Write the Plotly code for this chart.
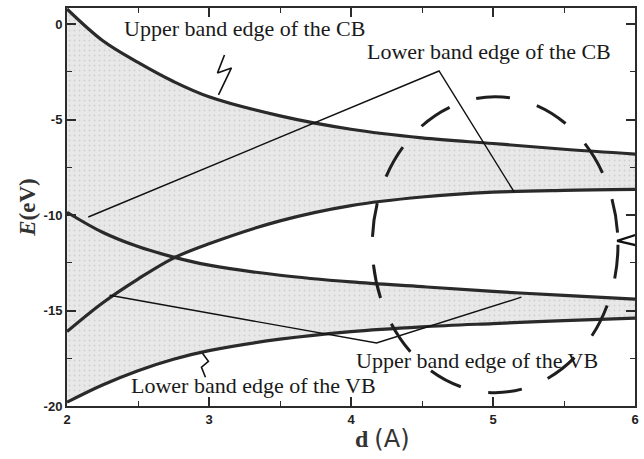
import plotly.graph_objects as go

# Interatomic spacing d (Å) at which the band edges are sampled
d = [2.0, 2.25, 2.5, 2.75, 3.0, 3.5, 4.0, 4.5, 5.0, 5.5, 6.0]

# Band-edge energies (eV)
cb_upper = [0.8, -0.85, -2.0, -3.0, -3.8, -4.8, -5.5, -5.95, -6.25, -6.55, -6.8]
cb_lower = [-16.1, -14.6, -13.35, -12.25, -11.5, -10.3, -9.5, -9.05, -8.8, -8.7, -8.65]
vb_upper = [-9.85, -10.9, -11.65, -12.2, -12.62, -13.15, -13.5, -13.75, -14.0, -14.2, -14.4]
vb_lower = [-19.8, -18.9, -18.15, -17.55, -17.1, -16.5, -16.1, -15.85, -15.68, -15.53, -15.4]

x_ticks = [2, 3, 4, 5, 6]
y_ticks = [0, -5, -10, -15, -20]

# Label texts and their anchor points (left edge, vertical middle)
labels = ["Upper band edge of the CB", "Lower band edge of the CB",
          "Upper band edge of the VB", "Lower band edge of the VB"]
label_x = [2.39, 4.10, 4.02, 2.44]
label_y = [-0.2, -1.45, -17.6, -18.95]

# Pointer lines from the labels to the curves
cb_pointer_x = [2.15, 4.62, 5.15]
cb_pointer_y = [-10.1, -2.45, -8.8]
vb_pointer_x = [2.30, 4.18, 5.20]
vb_pointer_y = [-14.2, -16.7, -14.3]

# Small zig-zag marks next to two labels
zig1_x = [3.109, 3.06, 3.158, 3.067]
zig1_y = [-1.61, -2.55, -2.29, -3.70]
zig2_x = [2.954, 2.996, 2.947, 2.975]
zig2_y = [-17.24, -17.66, -17.97, -18.49]

# Arrowhead at the right edge
arrow_x = [6.02, 5.874, 6.02]
arrow_y = [-11.0, -11.35, -11.6]

LINE = "#2a2a2a"
pattern = dict(shape=".", bgcolor="#e8e8e8", fgcolor="#b8b8b8", size=5, solidity=0.12)

fig = go.Figure()

# Shaded bands (fills only)
fig.add_trace(go.Scatter(x=d, y=cb_lower, mode="lines", line=dict(width=0, shape="spline"),
                         hoverinfo="skip", showlegend=False))
fig.add_trace(go.Scatter(x=d, y=cb_upper, mode="lines", line=dict(width=0, shape="spline"),
                         fill="tonexty", fillcolor="#e8e8e8", fillpattern=pattern,
                         hoverinfo="skip", showlegend=False))
fig.add_trace(go.Scatter(x=d, y=vb_lower, mode="lines", line=dict(width=0, shape="spline"),
                         hoverinfo="skip", showlegend=False))
fig.add_trace(go.Scatter(x=d, y=vb_upper, mode="lines", line=dict(width=0, shape="spline"),
                         fill="tonexty", fillcolor="#e8e8e8", fillpattern=pattern,
                         hoverinfo="skip", showlegend=False))

# Band-edge curves
for ys in (cb_upper, cb_lower, vb_upper, vb_lower):
    fig.add_trace(go.Scatter(x=d, y=ys, mode="lines",
                             line=dict(color=LINE, width=3.2, shape="spline"),
                             showlegend=False))

# Pointer lines and marks
for xs, ys, w in ((cb_pointer_x, cb_pointer_y, 1.4), (vb_pointer_x, vb_pointer_y, 1.4),
                  (zig1_x, zig1_y, 1.6), (zig2_x, zig2_y, 1.6),
                  (arrow_x, arrow_y, 2.2)):
    fig.add_trace(go.Scatter(x=xs, y=ys, mode="lines", line=dict(color="#111", width=w),
                             showlegend=False, hoverinfo="skip"))

# Hand-drawn dashed ring
fig.add_shape(type="circle", xref="x", yref="y", x0=4.15, x1=5.88, y0=-19.3, y1=-3.8,
              line=dict(color="#1e1e1e", width=3, dash="34px,28px"))

for t, lx, ly in zip(labels, label_x, label_y):
    fig.add_annotation(x=lx, y=ly, text=t, showarrow=False, xanchor="left", yanchor="middle",
                       font=dict(family="Liberation Serif", size=22, color="#1a1a1a"))

# x-axis title
fig.add_annotation(xref="paper", yref="paper", x=0.555, y=-0.083, yanchor="middle",
                   showarrow=False,
                   text="<b>d</b> <span style='font-family:DejaVu Sans'>(A)</span>",
                   font=dict(family="Liberation Serif", size=24, color="#333"))

axis_common = dict(showline=True, linecolor="#2b2b2b", linewidth=2, mirror="allticks",
                   ticks="inside", ticklen=9, tickwidth=1.6, tickcolor="#2b2b2b",
                   showgrid=False, zeroline=False,
                   tickfont=dict(family="Liberation Sans", size=13, color="#222", weight="bold"))

fig.update_xaxes(range=[2, 6], tickvals=x_ticks, ticktext=[str(v) for v in x_ticks],
                 minor=dict(ticks="inside", ticklen=5, tickwidth=1.4, tickcolor="#2b2b2b",
                            dtick=0.5, showgrid=False),
                 **axis_common)
fig.update_yaxes(range=[-20, 0.85], tickvals=y_ticks, ticktext=[str(v) for v in y_ticks],
                 minor=dict(ticks="inside", ticklen=5, tickwidth=1.4, tickcolor="#2b2b2b",
                            dtick=2.5, showgrid=False),
                 title=dict(text="<i>E</i>(eV)", standoff=2,
                            font=dict(family="Liberation Serif", size=23, color="#333",
                                      weight="bold")),
                 **axis_common)

fig.update_layout(width=644, height=459, margin=dict(l=67, r=5, t=8, b=53),
                  plot_bgcolor="white", paper_bgcolor="white", showlegend=False)

fig.write_html("out.html")
